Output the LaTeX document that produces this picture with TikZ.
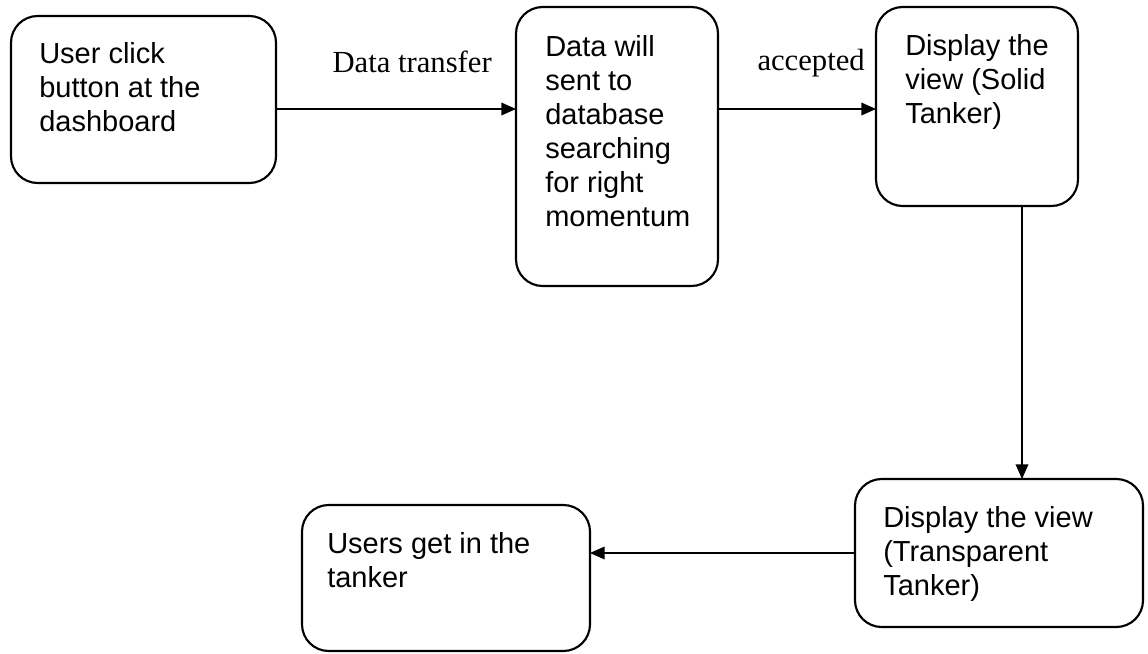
\documentclass[tikz,border=0pt]{standalone}
\usepackage{fontspec}
\setmainfont{Liberation Sans}
\newfontfamily\labelfont{Liberation Serif}
\usetikzlibrary{arrows.meta,calc}

\begin{document}
\begin{tikzpicture}[x=0.75pt,y=-0.75pt,
  box/.style 2 args={draw, line width=1.6pt, rounded corners=20pt,
    inner sep=0pt, outer sep=0pt, minimum width=#1, minimum height=#2},
  txt/.style={anchor=north west, inner sep=0pt, align=left,
    font=\fontsize{21.75pt}{25.6pt}\selectfont},
  lbl/.style={anchor=base east, inner sep=0pt,
    font=\labelfont\fontsize{23pt}{27pt}\selectfont},
  arr/.style={line width=1.1pt, -{Triangle[length=11pt,width=9.5pt]}}
]
  % canvas
  \fill[white] (0,0) rectangle (1148,653);
  \useasboundingbox (0,0) rectangle (1148,653);

  % process boxes (sizes in px, 1px = 0.75pt)
  \node[box={198.75pt}{125.25pt}] (b1) at (143.5,99.5) {};
  \node[box={151.5pt}{209.25pt}]  (b2) at (617,146.5) {};
  \node[box={151.5pt}{149.25pt}]  (b3) at (977,106.5) {};
  \node[box={216pt}{111pt}]       (b4) at (999,553) {};
  \node[box={216pt}{109.5pt}]     (b5) at (446,578) {};

  % box texts
  \node[txt] (t1) at ($(b1.north west)+(28,26)$) {User click\\button at the\\dashboard};
  \node[txt] (t2) at ($(b2.north west)+(29,28)$) {Data will\\sent to\\database\\searching\\for right\\momentum};
  \node[txt] (t3) at ($(b3.north west)+(29,27)$) {Display the\\view (Solid\\Tanker)};
  \node[txt] (t4) at ($(b4.north west)+(28,27)$) {Display the view\\(Transparent\\Tanker)};
  \node[txt] (t5) at ($(b5.north west)+(25,27)$) {Users get in the\\tanker};

  % helper levels for the connectors
  \coordinate (r1) at (0,109);
  \coordinate (c1) at (1022,0);

  % connectors
  \draw[arr] (b1.east |- r1) -- (b2.west |- r1);
  \draw[arr] (b2.east |- r1) -- (b3.west |- r1);
  \draw[arr] (b3.south -| c1) -- (b4.north -| c1);
  \draw[arr] (b4.west) -- (b5.east |- b4.west);

  % connector labels
  \node[lbl] (l1) at (492,72) {Data transfer};
  \node[lbl] (l2) at (865,70) {accepted};
\end{tikzpicture}
\end{document}
